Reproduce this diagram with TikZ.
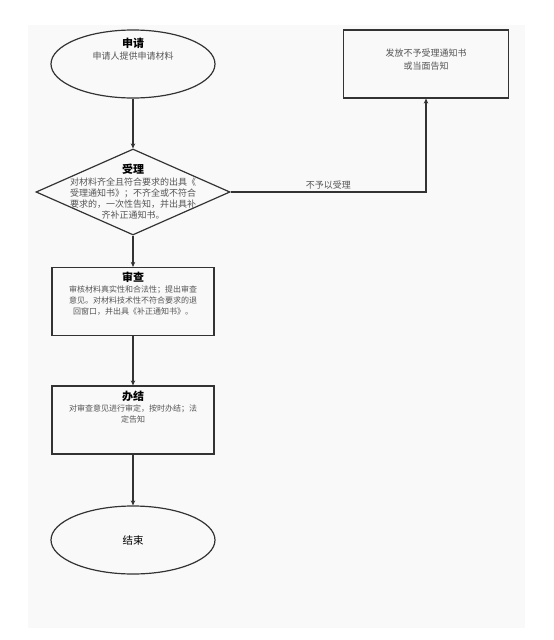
\documentclass[tikz,border=0pt]{standalone}
\usepackage{fontspec}
\setmainfont{Noto Sans CJK SC}
\usepackage{xcolor}
\usepackage{tikz}
\usetikzlibrary{arrows.meta,positioning,shapes.geometric}
\definecolor{pagebg}{HTML}{F9F9F9}
\definecolor{edge}{HTML}{333333}
\definecolor{bodytxt}{HTML}{555555}
\newcommand\stagename[1]{{\color{black}\fontsize{11}{13}\selectfont\bfseries #1}}

\begin{document}
\begin{tikzpicture}[
  x=1pt,y=-1pt,
  font=\fontsize{8}{11}\selectfont,
  shapeline/.style={draw=edge,line width=1.2pt,inner sep=0pt},
  startstop/.style={shapeline,ellipse,minimum width=164pt,minimum height=68pt},
  decision/.style={shapeline,diamond,minimum width=194pt,minimum height=86pt},
  box/.style={shapeline,rectangle,minimum width=162pt,minimum height=68pt},
  txt/.style={align=center,text=bodytxt,inner sep=0pt},
  dtxt/.style={txt,font=\fontsize{9}{11}\selectfont},
  arr/.style={-{Stealth[length=5pt,width=4.5pt]},line width=1.2pt,draw=edge},
]
\useasboundingbox (0,0) rectangle (554,640);
\fill[pagebg] (28,25) rectangle (525,628);
% main column
\node[startstop,label={[txt,yshift=15pt,font=\fontsize{9}{12}\selectfont]center:{\stagename{申请}\\申请人提供申请材料}}] (apply) at (133,64) {};
\node[decision,label={[dtxt]center:{\stagename{受理}\\[1pt]对材料齐全且符合要求的出具《\\受理通知书》；不齐全或不符合\\要求的，一次性告知，并出具补\\齐补正通知书。}}] (accept) at (133,192) {};
\node[box,label={[txt,anchor=north,yshift=-5pt]north:{\stagename{审查}\\审核材料真实性和合法性；提出审查\\意见。对材料技术性不符合要求的退\\回窗口，并出具《补正通知书》。}}] (review) at (133,301.5) {};
\node[box,label={[txt,anchor=north,yshift=-5pt]north:{\stagename{办结}\\对审查意见进行审定，按时办结；法\\定告知}}] (finish) at (133,420) {};
\node[startstop,label={[txt,text=black,font=\fontsize{10.5}{12}\selectfont]center:结束}] (done) at (133,540) {};
% rejection branch
\node[box,minimum width=165pt,label={[txt,yshift=4pt,font=\fontsize{9}{13}\selectfont]center:{发放不予受理通知书\\或当面告知}}] (notice) at (426,64) {};
\draw[arr] (apply) -- (accept);
\draw[arr] (accept) -- (review);
\draw[arr] (review) -- (finish);
\draw[arr] (finish) -- (done);
\draw[arr] (accept.east) -| node[pos=.25,above,text=bodytxt,inner sep=2pt,font=\fontsize{9}{10}\selectfont]{不予以受理} (notice.south);
\end{tikzpicture}
\end{document}
